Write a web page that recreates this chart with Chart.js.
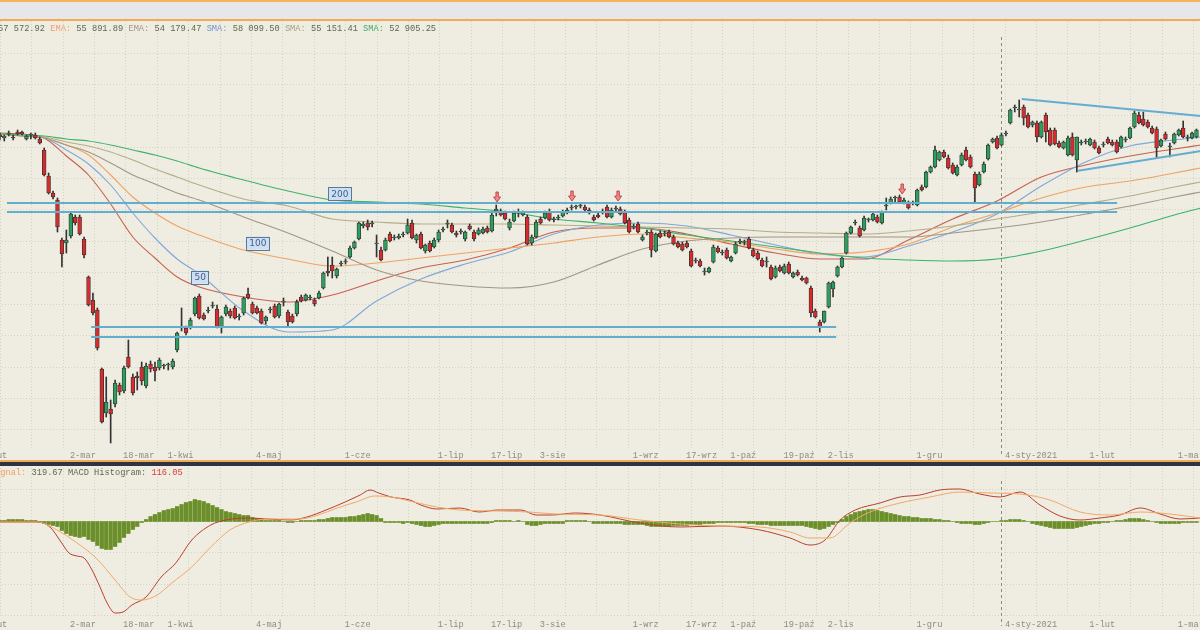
<!DOCTYPE html>
<html>
<head>
<meta charset="utf-8">
<script src="https://cdn.jsdelivr.net/npm/chart.js@4.4.0/dist/chart.umd.min.js"></script>
<style>
  html, body { margin: 0; padding: 0; }
  body { width: 1200px; height: 630px; overflow: hidden; position: relative; background: #efece2; font-family: "Liberation Mono", monospace; }
  .band { position: absolute; left: 0; width: 1200px; }
  .hdr { position: absolute; font-size: 8.7px; line-height: 10px; white-space: pre; color: #5f6a4c; z-index: 5; }
  canvas { position: absolute; }
</style>
</head>
<body>
<div class="band" style="top:0;height:2px;background:#f5b35c"></div>
<div class="band" style="top:2px;height:17px;background:#e7e7ea"></div>
<div class="band" style="top:19px;height:2px;background:#f1ab55"></div>
<div class="hdr" style="left:-28px;top:24px"><span style="color:#cf5a48">EMA: </span>57 572.92 <span style="color:#f0a070">EMA:</span> 55 891.89 <span style="color:#a39584">EMA:</span> 54 179.47 <span style="color:#6f95c9">SMA:</span> 58 099.50 <span style="color:#a49f82">SMA:</span> 55 151.41 <span style="color:#3fae68">SMA:</span> 52 905.25</div>
<canvas id="main" width="1280" height="440" style="left:-40px;top:21px"></canvas>
<div class="band" style="top:460px;height:2px;background:#f1ab55;z-index:4"></div>
<div class="band" style="top:462px;height:4px;background:#2f3445;z-index:4"></div>
<div class="hdr" style="left:-78px;top:468px"><span style="color:#c0402e">MACD:</span> 435.72 <span style="color:#f0a060">Signal:</span> 319.67 MACD Histogram: <span style="color:#d83a3a">116.05</span></div>
<canvas id="macd" width="1280" height="165" style="left:-40px;top:465px"></canvas>
<script>
// trading day index of the first candle (0 = 3 Feb 2020)
const firstDay = 5;
const open = [
  57600,57420,57660,57480,57780,57780,57360,57600,57600,57360,
  56700,55140,54120,53700,51300,51120,51540,52680,52680,51360,
  49080,47700,47100,43560,40920,41160,41460,42600,42240,44280,
  43080,43140,43680,42540,43860,43680,43620,43740,43800,43680,
  44700,46020,46020,46080,46860,47940,46800,47040,47340,47160,
  46020,46860,47040,47220,46680,46920,48060,47460,47220,47040,
  46440,47100,47340,46740,47580,46980,46740,46860,47880,47700,
  47820,47700,47820,48420,49440,49800,49140,49860,49980,50280,
  50820,51360,52140,52320,52260,51060,50700,50700,51660,51420,
  51420,51600,51720,52320,51300,51660,50640,51120,50880,51300,
  51900,52260,52200,51720,51780,51360,52140,51780,51660,51720,
  52020,51840,53040,53040,52920,52020,52440,52920,52800,52680,
  51120,51480,52560,52620,52980,52500,52620,52740,52920,53220,
  53280,53340,53280,53100,52680,52800,52980,53280,52680,53160,
  53160,52980,52500,52080,52260,51300,51720,51780,50640,51720,
  51660,51780,51480,51120,51060,51120,50640,50040,50040,49380,
  49380,49980,50820,50520,50700,50040,50520,51180,51180,51360,
  50700,50520,50100,49980,49680,49080,49680,49320,49860,49080,
  49380,49020,49020,48420,47040,46380,46380,47280,48360,49140,
  49680,50520,51720,52320,52020,51900,52500,52500,52680,52320,
  53340,53520,53820,53880,53520,53520,53520,53400,54480,54480,
  55380,55680,56100,56580,56220,55800,55200,55800,56700,56280,
  55260,54600,55380,56160,57180,57420,57000,57660,58320,59220,
  59100,59280,58800,58200,58320,57480,58800,57900,57900,57120,
  56820,56400,57480,56100,57120,57180,57000,57180,56820,57000,
  57360,57180,57180,56880,57300,57420,58080,58800,58560,58380,
  58020,57960,56940,57660,56880,57120,57600,58020,57420,57420,57480
];
const high = [
  57720,57600,57840,57600,57900,57840,57600,57720,57720,57480,
  56820,55320,54240,53820,51420,51900,52920,52800,52800,51480,
  49140,48120,47220,43620,43080,41700,42900,42720,43740,45300,
  43260,43380,43980,43920,44040,43980,44220,43860,43920,44160,
  45780,47220,46140,46620,47880,48060,46920,47280,47580,47400,
  46740,47400,47160,47340,46860,47880,48420,47580,47340,47160,
  46740,47280,47460,47520,47820,47100,46860,47700,48000,48060,
  48000,47820,48240,49380,50280,50280,49620,50040,50160,50940,
  51240,52380,52380,52500,52440,51600,50880,51420,51780,51600,
  51660,51780,52560,52500,51660,51780,51060,51240,51420,51900,
  52080,52500,52320,51840,51960,51840,52260,51900,52020,52080,
  52140,52920,53400,53160,53040,52560,53040,53160,53040,52800,
  51600,52500,52680,53040,53160,52680,52800,53100,53220,53400,
  53400,53520,53400,53220,52800,52920,53160,53400,53220,53340,
  53280,53100,52620,52260,52380,51600,51900,51900,51720,51840,
  51840,51900,51600,51240,51180,51240,50760,50220,50160,49620,
  49680,51000,50940,50700,50820,50340,51180,51360,51300,51480,
  50820,50640,50220,50280,49800,49740,49800,49860,49980,49380,
  49500,49140,49080,48540,47160,46500,47040,48780,48840,49740,
  50280,51780,52140,52500,52140,52740,52620,52920,52800,53040,
  53820,53880,53940,54000,53820,53640,53640,54360,54600,55440,
  55740,56940,56640,56700,56400,55920,55800,56520,56880,56400,
  55380,55380,55980,57060,57420,57540,57720,57840,59160,59400,
  59700,59400,58920,58440,58440,58440,58920,58020,58020,57240,
  57240,57540,57720,57480,57300,57360,57420,57300,56940,57180,
  57480,57300,57300,57540,57480,58080,59040,58980,58980,58500,
  58140,58080,57360,57780,57120,57720,57960,58440,57600,57780,57960
];
const low = [
  57300,57240,57540,57300,57600,57600,57300,57360,57360,57060,
  55140,54060,53760,51780,49680,50520,51420,52200,51600,50220,
  47340,46800,44700,40320,40680,39120,41280,42000,42120,43620,
  42000,42300,42600,42420,43380,42840,43500,43560,43500,43560,
  44580,45840,45600,45960,46740,46560,46500,46920,47220,46020,
  45720,46740,46620,46560,46500,46800,47760,46860,46860,46260,
  46260,46920,46620,46620,47340,46080,46320,46740,47580,47640,
  47700,47340,47760,48360,49140,49020,49020,49740,49860,50220,
  50760,51300,52020,51900,52080,50280,50040,50640,51180,51300,
  51360,51480,51660,51360,51120,50760,50520,50580,50820,51180,
  51780,52020,51720,51480,51660,51240,51900,51240,51600,51660,
  51720,51780,52740,52740,52500,51900,52380,52680,52740,51000,
  51000,51420,52260,52560,52440,52380,52500,52680,52860,53100,
  53160,53220,53040,52860,52440,52620,52860,52620,52620,53040,
  52800,52260,51720,51960,51720,51240,51600,50280,50580,51420,
  51540,51420,51000,50820,50640,50820,49680,49920,49680,49200,
  49320,49920,50520,50400,50160,49980,50460,51060,51000,50760,
  50280,50100,49680,49680,48900,49020,49380,49260,49260,49020,
  49140,48840,48660,46680,46620,45780,46320,47220,47880,49080,
  49620,50460,51660,52200,51480,51840,52380,52440,52320,52260,
  53100,53460,53580,53520,53460,53160,53400,53340,54240,54420,
  55320,55620,56040,56220,55560,55260,55140,55740,56040,55620,
  53580,54540,55320,56100,57120,56760,56940,57540,58260,58980,
  58680,58200,58020,58080,57180,57420,57180,56940,57000,56820,
  56760,56340,56340,55380,57000,57060,56940,56760,56460,56880,
  57060,56940,56520,56820,57180,57360,58020,58260,58140,58020,
  57660,56220,56880,57300,56280,57060,57540,57420,57240,57360,57420
];
const close = [
  57480,57540,57720,57420,57660,57660,57540,57600,57420,57120,
  55200,54120,53880,52080,50460,51300,52860,52320,51660,50400,
  47400,46920,44820,40380,41580,40860,42720,42180,43620,43680,
  42120,43020,42840,43740,43560,43440,44100,43740,43860,44040,
  45720,46140,45720,46500,47820,46620,46560,47100,47400,46080,
  46680,47280,46740,46620,46680,47820,47820,46920,46920,46320,
  46680,47100,46680,47460,47580,46380,46380,47580,47640,48000,
  47880,47460,48120,49320,49320,49440,49560,49920,50040,50820,
  51180,52320,52260,52080,52260,51120,50100,51300,51240,51420,
  51540,51600,52200,51420,51600,50820,51000,50640,51300,51780,
  51900,52320,51780,51600,51780,51780,51960,51360,51900,51960,
  51780,52800,53160,52800,52560,52380,52920,52920,52980,51060,
  51480,52380,52320,52920,52500,52500,52620,52980,53100,53220,
  53280,53340,53100,52920,52500,52680,52980,52680,53100,53160,
  52860,52320,51780,52080,51780,51480,51720,50700,51660,51480,
  51660,51480,51060,50880,50700,50880,49740,50040,49740,49380,
  49620,50880,50580,50520,50220,50280,51060,51180,51180,50820,
  50340,50160,49740,49980,48960,49620,49440,49740,49320,49320,
  49200,48900,48720,46920,46680,46080,47040,48720,48780,49680,
  50220,51720,52080,52320,51540,52620,52500,52860,52380,52980,
  53400,53760,53880,53580,53700,53220,53520,54300,54300,55380,
  55680,56700,56580,56280,55620,55320,55680,56400,56100,55680,
  54420,55260,55860,57000,57360,56820,57600,57660,59100,59220,
  59100,58620,58080,58380,57480,58380,57780,57000,57060,56880,
  57180,57420,56400,57480,57120,57180,57360,56820,56520,57000,
  57120,57000,56580,57480,57300,58020,58920,58320,58200,58080,
  57720,56820,57300,57360,56880,57660,57900,57480,57420,57720,57900
];

// MACD histogram, one bar per candle
const macdHist = [
  30,30,60,60,60,60,30,30,30,-30,
  -60,-90,-120,-150,-270,-360,-420,-450,-480,-450,
  -540,-600,-720,-810,-840,-840,-750,-630,-480,-360,
  -240,-150,-30,60,150,210,270,330,360,390,
  450,510,570,600,660,630,600,540,480,420,
  360,300,270,240,210,180,180,120,90,60,
  30,30,30,30,0,-30,-30,0,30,30,
  30,30,60,60,90,120,120,120,120,150,
  150,180,210,240,210,180,90,-30,-30,-30,
  -30,-60,-30,-60,-90,-120,-150,-150,-120,-90,
  -60,-60,-60,-60,-60,-60,-60,-60,-60,-60,
  -60,-30,30,30,30,30,0,30,0,-90,
  -120,-120,-90,-60,-60,-60,-60,-60,30,30,
  30,30,30,0,-60,-60,-60,-60,-60,-60,
  -60,-90,-90,-90,-90,-90,-120,-150,-150,-150,
  -150,-150,-120,-120,-120,-120,-90,-90,-90,-60,
  -60,-60,-30,-30,-30,-30,-30,-30,-30,-60,
  -60,-90,-90,-90,-120,-120,-120,-120,-120,-120,
  -120,-120,-150,-180,-210,-240,-210,-150,-90,-30,
  60,150,210,270,300,330,360,360,330,300,
  270,240,210,180,150,150,120,120,90,90,
  90,60,60,30,30,0,-30,-60,-60,-60,
  -90,-90,-60,-30,0,0,30,30,60,60,
  60,30,0,-60,-90,-120,-150,-180,-210,-210,
  -210,-210,-210,-180,-150,-120,-90,-60,-60,-30,
  -30,0,30,30,60,90,90,90,60,30,
  0,-30,-60,-60,-60,-60,-60,-30,-30,-30,-30
];

// moving averages read at these day indexes
const maIdx = [5,10,15,20,25,30,35,40,45,50,60,70,80,90,100,110,120,130,140,150,160,170,180,190,200,210,220,230,240,250,260,270,276];
const emaFast = [57720,57660,57420,56340,55200,53460,51480,50220,49080,48480,47880,47580,48000,48840,49620,50100,50820,51780,52020,52020,51660,51060,50520,50160,50160,51300,52560,53640,55080,55800,56340,56760,57000];
const emaMid = [57660,57540,57420,57000,56400,55200,53880,52920,52140,51600,50700,50160,49740,49920,50220,50520,50820,51120,51480,51660,51420,51180,50760,50460,50580,51060,52080,52920,53820,54480,54840,55320,55620];
const emaSlow = [57660,57540,57420,57000,56580,55920,55200,54660,54120,53700,52680,51720,50640,49500,48840,48540,48420,48780,49800,50760,51240,51420,51480,51480,51480,51480,51720,52020,52380,52860,53340,53880,54180];
const sma50 = [57660,57540,57420,56700,55860,54600,52920,51420,50160,49260,47040,45780,45900,47640,48960,49860,50580,51660,52200,52320,52140,51600,51000,50460,50280,50940,51780,52860,54540,55980,56940,57300,57480];
const sma100 = [57660,57600,57480,57180,56940,56580,56100,55560,55080,54600,53760,53340,52560,52380,52260,52260,52260,52200,52140,52080,52020,51960,51780,51720,51660,51840,52140,52560,52980,53460,53940,54480,54780];
const sma200 = [57660,57600,57540,57360,57240,57000,56700,56400,56040,55620,54900,54240,53700,53580,53460,53220,52980,52560,52320,52020,51600,51240,50880,50520,50220,50100,50040,50160,50640,51300,52020,52800,53220];

// MACD and signal lines
const macdIdx = [5,13.6,16.3,18.8,20.6,22.4,24,25.8,27.6,29.2,31,32.8,34.8,38,41.4,44.7,48.3,52.6,56,61.2,65.5,70.7,74.3,78.6,82.9,86.3,88.5,90.5,93.3,97.5,100,103.6,108.8,113.1,117.4,122.6,126,129.6,134.8,140.4,149.4,158.5,167.5,176.5,183.3,187.8,191.2,194.6,198,203.6,208.1,212.6,217.1,221.6,226.1,230.7,235.2,239.7,244.2,248.7,253.2,257.7,262.3,266.8,271.3,275.8];
const macdLine = [-15,-15,-165,-615,-945,-1035,-1095,-1455,-1965,-2445,-2745,-2715,-2505,-2265,-1665,-1245,-555,-105,45,105,75,45,135,345,585,795,945,855,735,645,495,375,405,285,345,345,195,195,255,195,-45,-165,-135,-255,-495,-705,-555,45,345,555,735,795,945,975,825,735,885,495,165,45,105,195,405,225,75,105];
const signalIdx = [5,13.6,17.9,22.4,26.7,31,34.4,37.1,40.5,43.8,48.3,52.6,56.9,61.2,65.5,72.5,76.8,81.1,85.4,89.6,93.3,98.4,103.6,108.8,117.4,124.4,130.5,140.4,149.4,158.5,167.5,176.5,183.3,187.8,192.3,196.8,201.3,208.1,214.9,221.6,228.4,235.2,241.9,248.7,255.5,262.3,269,275.8];
const signalLine = [-15,-15,-255,-645,-1095,-1755,-2265,-2355,-2205,-1845,-1365,-765,-255,-15,75,75,195,405,585,765,735,585,435,345,315,285,225,195,45,-75,-135,-165,-315,-495,-495,-45,285,555,735,885,855,825,645,285,195,285,225,105];

// drawn levels and trendlines
const resistance = [53520, 52980];
const resistanceFrom = 6.6, resistanceTo = 257.1;
const support = [46080, 45480];
const supportFrom = 25.6, supportTo = 193.7;
const trendUpperIdx = [235.6, 276], trendUpper = [59760, 58740];
const trendLowerIdx = [248.3, 276], trendLower = [55460, 56640];
const arrowIdx = [117.2, 134.1, 144.5, 208.6];
const arrowPrice = [53580, 53640, 53640, 54060];
const tagText = ['200', '100', '50'];
const tagIdx = [81.7, 63.2, 50.2];
const tagPrice = [54060, 51120, 49080];
const yearIdx = 231;

const tickIdx = [0,20,32,42,62,82,103,115,126,147,159,169,181,191,211,231,250,270];
const tickText = ['3-lut','2-mar','18-mar','1-kwi','4-maj','1-cze','1-lip','17-lip','3-sie','1-wrz','17-wrz','1-paź','19-paź','2-lis','1-gru','4-sty-2021','1-lut','1-mar'];

const X_MIN = -3.994, X_MAX = 284.82;
const LABEL_SHIFT = 0.8; // labels start a little right of their day
const gridColor = '#d6d3c5';
const monoFont = { family: 'Liberation Mono', size: 8.7 };

const gridCols = [];
for (let v = 12.19 - 7.085 * 3; v < X_MAX; v += 7.085) gridCols.push(v);

function labelAxis() {
  return {
    type: 'linear', min: X_MIN, max: X_MAX, offset: false,
    grid: { display: false, drawTicks: false, offset: false },
    border: { display: false },
    ticks: {
      autoSkip: false, maxRotation: 0, align: 'start', padding: 1,
      color: '#8d8d83', font: monoFont,
      callback: v => tickText[tickIdx.indexOf(Math.round(v - LABEL_SHIFT))]
    },
    afterBuildTicks: s => { s.ticks = tickIdx.map(v => ({ value: v + LABEL_SHIFT })); },
    afterFit: s => { s.height = 12; }
  };
}
function gridAxis() {
  return {
    type: 'linear', min: X_MIN, max: X_MAX, position: 'bottom', offset: false,
    ticks: { display: false },
    grid: { color: gridColor, drawTicks: false, offset: false },
    border: { display: false, dash: [1, 2] },
    afterBuildTicks: s => { s.ticks = gridCols.map(v => ({ value: v })); },
    afterFit: s => { s.height = 0; }
  };
}
function yAxis(min, max, rows) {
  return {
    min, max,
    ticks: { display: false },
    grid: { color: gridColor, drawTicks: false },
    border: { display: false, dash: [1, 2] },
    afterBuildTicks: s => { s.ticks = rows.map(v => ({ value: v })); },
    afterFit: s => { s.width = 0; }
  };
}

const days = open.map((_, k) => firstDay + k);
const pts = (xs, ys) => xs.map((x, k) => ({ x, y: ys[k] }));
const maLine = (data, color) => ({
  type: 'line', data: pts(maIdx, data), borderColor: color, borderWidth: 1.1,
  pointRadius: 0, tension: 0.4, cubicInterpolationMode: 'monotone', order: 3
});
const level = (from, to, v) => ({
  type: 'line', data: [{ x: from, y: v }, { x: to, y: v }], borderColor: '#62aed1',
  borderWidth: 2, pointRadius: 0, order: 0
});

const divider = {
  id: 'divider',
  beforeDatasetsDraw(chart) {
    const { ctx, chartArea: a, scales: { x } } = chart;
    const px = Math.round(x.getPixelForValue(yearIdx)) + 0.5;
    ctx.save();
    ctx.strokeStyle = '#8a8a84';
    ctx.lineWidth = 1;
    ctx.setLineDash([3, 3]);
    ctx.beginPath();
    ctx.moveTo(px, a.top + 16);
    ctx.lineTo(px, a.bottom + 8);
    ctx.stroke();
    ctx.restore();
  }
};

const marks = {
  id: 'marks',
  afterDatasetsDraw(chart) {
    const { ctx, scales: { x, y } } = chart;
    ctx.save();
    arrowIdx.forEach((d, k) => {
      const px = x.getPixelForValue(d), py = y.getPixelForValue(arrowPrice[k]);
      ctx.beginPath();
      ctx.moveTo(px - 1.2, py - 10);
      ctx.lineTo(px + 1.2, py - 10);
      ctx.lineTo(px + 1.2, py - 5);
      ctx.lineTo(px + 3.5, py - 5);
      ctx.lineTo(px, py);
      ctx.lineTo(px - 3.5, py - 5);
      ctx.lineTo(px - 1.2, py - 5);
      ctx.closePath();
      ctx.fillStyle = '#ee8a8a';
      ctx.strokeStyle = '#c43c3c';
      ctx.lineWidth = 0.9;
      ctx.fill();
      ctx.stroke();
    });
    ctx.font = '9px "DejaVu Sans"';
    ctx.textAlign = 'center';
    ctx.textBaseline = 'middle';
    tagText.forEach((t, k) => {
      const px = x.getPixelForValue(tagIdx[k]), py = y.getPixelForValue(tagPrice[k]);
      const w = ctx.measureText(t).width + 6, h = 13;
      ctx.fillStyle = '#cddff2';
      ctx.strokeStyle = '#5a7999';
      ctx.lineWidth = 1;
      ctx.fillRect(px - w / 2, py - h / 2, w, h);
      ctx.strokeRect(Math.round(px - w / 2) + 0.5, Math.round(py - h / 2) + 0.5, Math.round(w), h);
      ctx.fillStyle = '#3f5f8c';
      ctx.fillText(t, px, py + 0.5);
    });
    ctx.restore();
  }
};

const priceRows = [];
for (let py = 53; py < 449; py += 31.4) priceRows.push(65700 - 60 * py);
const macdRows = [];
for (let py = 490; py < 618; py += 31.4) macdRows.push((521.5 - py) * 30);

new Chart(document.getElementById('main'), {
  type: 'bar',
  data: {
    datasets: [
      level(resistanceFrom, resistanceTo, resistance[0]),
      level(resistanceFrom, resistanceTo, resistance[1]),
      level(supportFrom, supportTo, support[0]),
      level(supportFrom, supportTo, support[1]),
      { type: 'line', data: pts(trendUpperIdx, trendUpper), borderColor: '#62aed1', borderWidth: 2, pointRadius: 0, order: 0 },
      { type: 'line', data: pts(trendLowerIdx, trendLower), borderColor: '#62aed1', borderWidth: 2, pointRadius: 0, order: 0 },
      {
        data: days.map((d, k) => ({ x: d, y: [Math.min(open[k], close[k]), Math.max(open[k], close[k])] })),
        backgroundColor: days.map((d, k) => close[k] >= open[k] ? '#2d9f5c' : '#d92b2b'),
        borderColor: '#333333', borderWidth: 0.8, borderSkipped: false,
        barThickness: 3.8, minBarLength: 1, grouped: false, order: 1
      },
      {
        data: days.map((d, k) => ({ x: d, y: [low[k], high[k]] })),
        backgroundColor: '#333333', barThickness: 1, grouped: false, order: 2
      },
      maLine(sma200, '#3cb36a'),
      maLine(sma100, '#b3ae86'),
      maLine(emaSlow, '#a29684'),
      maLine(emaMid, '#f0a262'),
      maLine(sma50, '#7fa7d9'),
      maLine(emaFast, '#c8604e')
    ]
  },
  options: {
    responsive: false, animation: false, devicePixelRatio: 1,
    layout: { padding: 0 },
    plugins: { legend: { display: false }, tooltip: { enabled: false } },
    scales: { x: labelAxis(), xg: gridAxis(), y: yAxis(38760, 64440, priceRows) }
  },
  plugins: [divider, marks]
});

new Chart(document.getElementById('macd'), {
  type: 'bar',
  data: {
    datasets: [
      { type: 'line', data: pts(signalIdx, signalLine), borderColor: '#f2a866', borderWidth: 1, pointRadius: 0, tension: 0.4, cubicInterpolationMode: 'monotone', order: 0 },
      { type: 'line', data: pts(macdIdx, macdLine), borderColor: '#b8402c', borderWidth: 1, pointRadius: 0, tension: 0.4, cubicInterpolationMode: 'monotone', order: 1 },
      {
        data: days.map((d, k) => ({ x: d, y: macdHist[k] })),
        backgroundColor: '#6b8f2a', barThickness: 3.6, grouped: false, order: 2
      }
    ]
  },
  options: {
    responsive: false, animation: false, devicePixelRatio: 1,
    layout: { padding: 0 },
    plugins: { legend: { display: false }, tooltip: { enabled: false } },
    scales: { x: labelAxis(), xg: gridAxis(), y: yAxis(-2895, 1695, macdRows) }
  },
  plugins: [divider]
});
</script>
</body>
</html>
